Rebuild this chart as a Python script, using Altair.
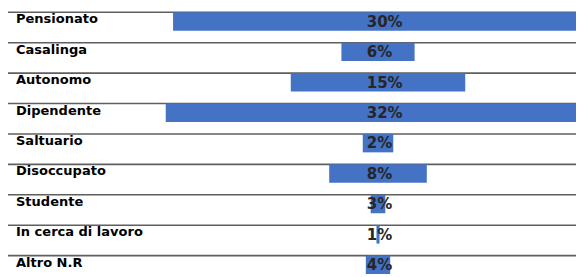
import altair as alt
import pandas as pd

categories = ["Pensionato", "Casalinga", "Autonomo", "Dipendente", "Saltuario",
              "Disoccupato", "Studente", "In cerca di lavoro", "Altro N.R"]
labels = ["30%", "6%", "15%", "32%", "2%", "8%", "3%", "1%", "4%"]
# drawn bar lengths (percent units), centred on zero
bar_widths = [33.6, 6.0, 14.3, 34.8, 2.5, 8.0, 1.2, 0.25, 2.0]
title_text = "Professione"

df = pd.DataFrame({"cat": categories, "label": labels, "w": bar_widths})
df["lo"] = -df["w"] / 2
df["hi"] = df["w"] / 2

W, H = 568, 269
xscale = alt.Scale(domain=[-30.33, 16.23], range=[0, W], nice=False, zero=False)
yscale = alt.Scale(domain=categories, range=[4.3, 278], paddingInner=0, paddingOuter=0)

base = alt.Chart(df)

rules = base.mark_rule(color="#5f5f5f", strokeWidth=1.6).encode(
    y=alt.Y("cat:N", scale=yscale, bandPosition=0, axis=None, sort=categories),
    x=alt.value(-3), x2=alt.value(W),
)

bars = base.mark_bar(color="#4472C4", size=18.4, yOffset=-6).encode(
    y=alt.Y("cat:N", scale=yscale, axis=None, sort=categories),
    x=alt.X("lo:Q", scale=xscale, axis=None),
    x2="hi:Q",
)

names = base.mark_text(align="left", baseline="alphabetic", font="DejaVu Sans",
                       fontWeight="bold", fontSize=13, color="#000000",
                       dy=11).encode(
    y=alt.Y("cat:N", scale=yscale, bandPosition=0, axis=None, sort=categories),
    x=alt.value(8),
    text="cat:N",
)

pcts = base.mark_text(align="left", baseline="alphabetic", font="DejaVu Sans",
                      fontWeight="bold", fontSize=15, color="#262626",
                      dx=-11.3, dy=14.4).encode(
    y=alt.Y("cat:N", scale=yscale, bandPosition=0, axis=None, sort=categories),
    x=alt.datum(0, scale=xscale),
    text="label:N",
)

title = alt.Chart(pd.DataFrame({"t": [title_text]})).mark_text(
    align="center", baseline="alphabetic", font="Liberation Sans",
    fontSize=26, color="#222222").encode(
    x=alt.value(288), y=alt.value(-3), text="t:N")

chart = alt.layer(rules, bars, names, pcts, title).properties(
    width=W, height=H, autosize=alt.AutoSizeParams(type="none"), padding=0
).configure_view(stroke=None)

chart.save("out.html", embed_options={"renderer": "svg", "actions": False})
